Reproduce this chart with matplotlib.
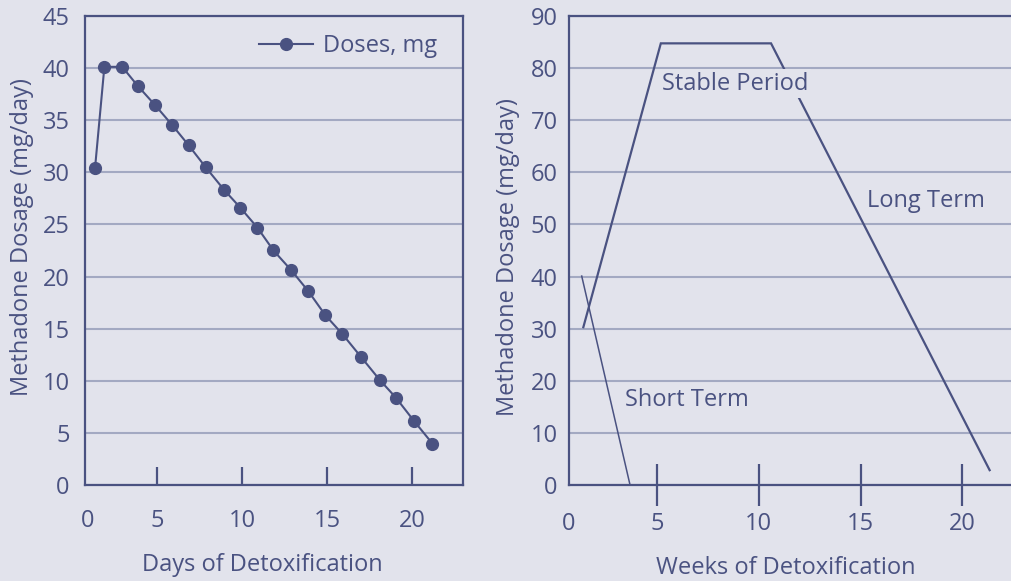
import matplotlib
matplotlib.use("Agg")
import matplotlib.pyplot as plt

# ---- data ----
days = [1.35, 1.9, 2.95, 3.85, 4.9, 5.9, 6.85, 7.85, 8.95, 9.9, 10.9,
        11.85, 12.9, 13.9, 14.9, 15.9, 17.0, 18.1, 19.05, 20.1, 21.2]
doses = [30.4, 40.1, 40.1, 38.3, 36.4, 34.5, 32.6, 30.5, 28.3, 26.6, 24.7,
         22.5, 20.6, 18.6, 16.3, 14.5, 12.3, 10.1, 8.4, 6.2, 4.0]

long_weeks = [1.37, 5.18, 10.6, 21.35]
long_dose = [30.3, 84.7, 84.7, 2.9]
short_weeks = [1.29, 3.67]
short_dose = [40.1, 0.0]

left_xticks = [0.94, 5, 10, 15, 20]
left_xlabels = ["0", "5", "10", "15", "20"]
left_yticks = [0, 5, 10, 15, 20, 25, 30, 35, 40, 45]
right_xticks = [0.65, 5, 10, 15, 20]
right_xlabels = ["0", "5", "10", "15", "20"]
right_yticks = [0, 10, 20, 30, 40, 50, 60, 70, 80, 90]

# ---- style ----
BG = "#e2e3ec"
INK = "#4a5281"
GRID = "#a3a9c2"
FS = 17
plt.rcParams["font.family"] = ["Open Sans", "DejaVu Sans"]

W, H = 1011, 581
fig = plt.figure(figsize=(W / 100, H / 100), dpi=100, facecolor=BG)

def px_axes(x0, x1, ytop, ybot):
    return fig.add_axes([x0 / W, 1 - ybot / H, (x1 - x0) / W, (ybot - ytop) / H])

axL = px_axes(85, 463, 15.7, 485.3)
axR = px_axes(568.7, 1011, 15.7, 485.3)

for ax in (axL, axR):
    ax.set_facecolor(BG)
    ax.set_axisbelow(True)
    ax.yaxis.grid(True, color=GRID, lw=1.5)
    ax.xaxis.grid(False)
    for s in ax.spines.values():
        s.set_color(INK)
        s.set_linewidth(1.6)
    ax.tick_params(axis="both", colors=INK, labelsize=FS, labelcolor=INK)
    ax.tick_params(axis="y", length=0)

# ---- left panel ----
axL.plot(days, doses, color=INK, lw=1.5, marker="o", ms=8.5,
         markerfacecolor=INK, markeredgecolor=INK, label="Doses, mg")
axL.set_xlim(0.76, 23.0)
axL.set_ylim(0, 45)
axL.set_yticks(left_yticks)
axL.set_xticks(left_xticks, left_xlabels)
axL.tick_params(axis="x", direction="in", length=13, width=1.6, pad=17)
axL.tick_params(axis="y", pad=11)
axL.xaxis.get_major_ticks()[0].tick1line.set_visible(False)
axL.set_ylabel("Methadone Dosage (mg/day)", color=INK, fontsize=FS,
               va="center", rotation_mode="default")
axL.yaxis.set_label_coords((22 - 85) / 378, (485.3 - 237) / 469.6)
axL.set_xlabel("Days of Detoxification", color=INK, fontsize=FS, va="center")
axL.xaxis.set_label_coords((262 - 85) / 378, (485.3 - 565) / 469.6)
leg = axL.legend(loc="center left", bbox_to_anchor=((259 - 85) / 378, (485.3 - 46) / 469.6),
                 frameon=False, fontsize=FS, handlelength=2.3, handletextpad=0.4,
                 borderpad=0, borderaxespad=0, labelcolor=INK)

# ---- right panel ----
axR.plot(long_weeks, long_dose, color=INK, lw=1.6, solid_joinstyle="miter")
axR.plot(short_weeks, short_dose, color=INK, lw=1.1)
axR.set_xlim(0.65, 22.4)
axR.set_ylim(0, 90)
axR.set_yticks(right_yticks)
axR.set_xticks(right_xticks, right_xlabels)
axR.spines["right"].set_visible(False)
axR.tick_params(axis="x", direction="inout", length=30, width=1.6, pad=4)
axR.tick_params(axis="y", pad=8)
axR.xaxis.get_major_ticks()[0].tick1line.set_visible(False)
axR.set_ylabel("Methadone Dosage (mg/day)", color=INK, fontsize=FS,
               va="center", rotation_mode="default")
axR.yaxis.set_label_coords((508 - 568.7) / 442.3, (485.3 - 257) / 469.6)
axR.set_xlabel("Weeks of Detoxification", color=INK, fontsize=FS, va="center")
axR.xaxis.set_label_coords((786 - 568.7) / 442.3, (485.3 - 568) / 469.6)

bbox = dict(facecolor=BG, edgecolor="none", pad=1.5)
axR.text(5.25, 77.0, "Stable Period", color=INK, fontsize=FS, ha="left", va="center", bbox=bbox)
axR.text(15.3, 54.5, "Long Term", color=INK, fontsize=FS, ha="left", va="center")
axR.text(3.4, 16.3, "Short Term", color=INK, fontsize=FS, ha="left", va="center")

fig.savefig("out.png", dpi=100, facecolor=BG)
